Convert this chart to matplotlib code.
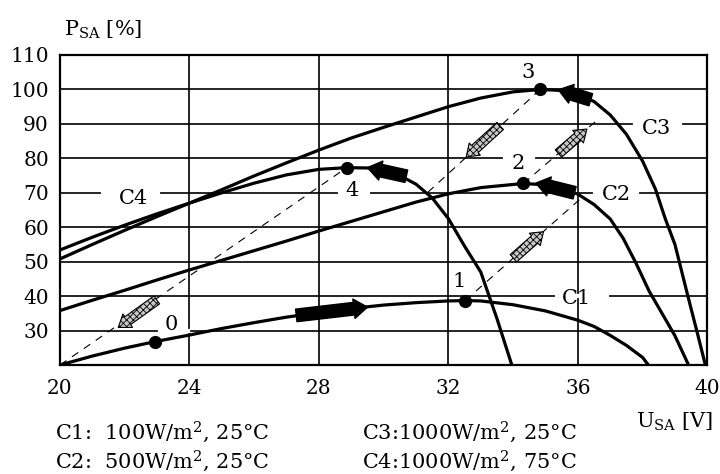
#!/usr/bin/env python3
import matplotlib
matplotlib.use("Agg")
import matplotlib.pyplot as plt

plt.rcParams['font.family'] = 'DejaVu Serif'
plt.rcParams['mathtext.fontset'] = 'dejavuserif'
plt.rcParams['font.size'] = 14.5
plt.rcParams['hatch.linewidth'] = 0.6

# P-U curves of the solar array, P in % of nominal, U in volts
c1_u = [20, 21, 22, 22.94, 24, 25, 26, 27, 28, 29, 30, 31, 32, 32.52, 33, 34, 35, 36, 36.5, 37, 37.5, 38, 38.18]
c1_p = [20, 22.6, 24.9, 26.8, 28.7, 30.6, 32.3, 33.9, 35.2, 36.4, 37.4, 38.1, 38.6, 38.7, 38.6, 37.5, 35.7, 33.0, 31.2, 28.6, 25.7, 22.2, 20]

c2_u = [20, 21, 22, 23, 24, 25, 26, 27, 28, 29, 30, 31, 32, 33, 34.32, 35, 35.5, 36, 36.5, 37, 37.4, 37.8, 38.2, 38.6, 39.0, 39.42]
c2_p = [35.8, 38.8, 41.7, 44.7, 47.6, 50.4, 53.2, 56.0, 58.9, 61.7, 64.5, 67.3, 69.7, 71.5, 72.7, 72.3, 71.3, 69.6, 66.6, 62.4, 56.8, 49.5, 41.5, 35.0, 28.5, 20]

c3_u = [20, 21, 22, 23, 24, 25, 26, 27, 28, 29, 30, 31, 32, 33, 34, 34.84, 35.5, 36, 36.5, 37, 37.5, 38, 38.4, 38.7, 39.0, 39.4, 39.7, 39.94]
c3_p = [50.8, 55.0, 59.1, 63.1, 67.0, 70.9, 74.9, 78.7, 82.4, 85.9, 89.0, 92.0, 95.0, 97.5, 99.3, 100, 99.7, 98.6, 96.5, 92.6, 87.0, 79.2, 71.0, 62.5, 55.0, 40.0, 29.0, 20]

c4_u = [20, 21, 22, 23, 24, 25, 26, 27, 28, 28.86, 29.5, 30, 30.5, 31, 31.5, 32, 32.5, 33, 33.5, 33.96]
c4_p = [53.4, 57.1, 60.6, 63.9, 67.0, 70.0, 72.8, 75.2, 76.8, 77.3, 77.2, 76.5, 75.0, 72.5, 68.5, 62.5, 54.5, 47.0, 33.5, 20]

# operating points 0..4
op_names = ['0', '1', '2', '3', '4']
op_u = [22.94, 32.52, 34.32, 34.84, 28.86]
op_p = [26.8, 38.7, 72.7, 100.0, 77.3]

# dashed transition lines (start, end)
dash_u = [(20.0, 28.86), (32.52, 36.05), (34.32, 36.55), (34.84, 31.35)]
dash_p = [(20.0, 77.3), (38.7, 68.0), (72.7, 90.7), (100.0, 70.0)]

# hatched arrows along the dashed lines (tail -> head)
hatch_tail = [(22.99, 38.9), (34.01, 51.0), (35.40, 81.4), (33.60, 89.4)]
hatch_head = [(21.80, 30.9), (34.94, 58.7), (36.28, 88.5), (32.55, 80.4)]

# black arrows on the curves (tail -> head)
blob_tail = [(27.3, 34.4), (35.9, 70.0), (36.4, 97.0), (30.7, 74.8)]
blob_head = [(29.5, 36.8), (34.7, 72.8), (35.4, 99.9), (29.5, 77.3)]

# labels sitting on grid lines (text, u, p, gap start, gap end, grid p)
grid_labels = [
    ('C4', 22.27, 68.3, 21.33, 23.03, 70),
    ('4', 29.02, 70.8, 28.66, 29.52, 70),
    ('2', 34.17, 78.6, 33.76, 34.62, 80),
    ('0', 23.45, 31.9, 23.09, 23.96, 30),
    ('C1', 35.97, 39.4, 35.35, 36.90, 40),
    ('C2', 37.20, 69.4, 36.54, 37.83, 70),
    ('C3', 38.44, 88.7, 37.78, 39.17, 90),
]
free_labels = [('3', 34.47, 104.9), ('1', 32.33, 44.2)]

legend_lines = [
    ('C1:  100W/m$^2$, 25°C', 'C3:1000W/m$^2$, 25°C'),
    ('C2:  500W/m$^2$, 25°C', 'C4:1000W/m$^2$, 75°C'),
]


def main():
    fig = plt.figure(figsize=(7.2, 4.74), dpi=100)
    ax = fig.add_axes([60 / 720, 109 / 474, 647.3 / 720, 310 / 474])

    ax.set_xlim(20, 40)
    ax.set_ylim(20, 110)
    ax.set_xticks(range(20, 41, 4))
    ax.set_yticks(range(30, 111, 10))
    ax.tick_params(length=0)
    ax.tick_params(axis='x', pad=10)
    ax.tick_params(axis='y', pad=8)
    ax.grid(True, color='black', lw=1.2, zorder=1)
    ax.set_axisbelow(True)
    for s in ax.spines.values():
        s.set_linewidth(1.6)

    for u, p in [(c1_u, c1_p), (c2_u, c2_p), (c3_u, c3_p), (c4_u, c4_p)]:
        ax.plot(u, p, color='black', lw=2.3, zorder=4, solid_capstyle='butt')

    for u, p in zip(dash_u, dash_p):
        ax.plot(u, p, color='black', lw=0.8, dashes=(7, 6), zorder=3)

    ax.plot(op_u, op_p, 'o', color='black', ms=8.5, zorder=5)

    for t, h in zip(hatch_tail, hatch_head):
        ax.annotate('', xy=h, xytext=t, zorder=6,
                    arrowprops=dict(arrowstyle='simple,head_length=0.6,head_width=0.85,tail_width=0.5',
                                    mutation_scale=14, fc='#c8c8c8', ec='black', lw=0.8,
                                    hatch='xxxxx', shrinkA=0, shrinkB=0))

    for t, h in zip(blob_tail, blob_head):
        ax.annotate('', xy=h, xytext=t, zorder=6,
                    arrowprops=dict(arrowstyle='simple,head_length=0.7,head_width=1.0,tail_width=0.65',
                                    mutation_scale=14, fc='black', ec='black', lw=1,
                                    shrinkA=0, shrinkB=0))

    for txt, u, p, g0, g1, gp in grid_labels:
        ax.plot([g0, g1], [gp, gp], color='white', lw=3, zorder=2)
        ax.text(u, p, txt, ha='center', va='center', fontsize=15, zorder=7)
    for txt, u, p in free_labels:
        ax.text(u, p, txt, ha='center', va='center', fontsize=15, zorder=7)

    fig.text(103 / 720, 1 - 30 / 474, 'P$_{\\mathrm{SA}}$ [%]', ha='center', va='center', fontsize=15)
    fig.text(675 / 720, 1 - 422 / 474, 'U$_{\\mathrm{SA}}$ [V]', ha='center', va='center', fontsize=15)

    for row, (left, right) in enumerate(legend_lines):
        y = 1 - (432 + 29 * row) / 474
        fig.text(55 / 720, y, left, ha='left', va='center', fontsize=15)
        fig.text(362 / 720, y, right, ha='left', va='center', fontsize=15)

    fig.savefig('out.png', dpi=100)
    plt.close(fig)


if __name__ == '__main__':
    main()
